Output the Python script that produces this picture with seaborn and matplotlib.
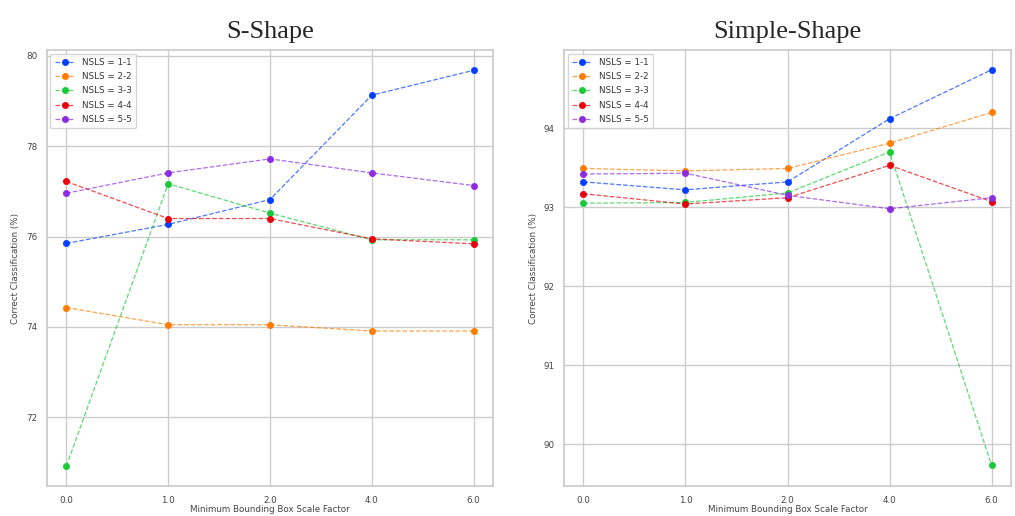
import matplotlib
matplotlib.use("Agg")
import matplotlib.pyplot as plt
import seaborn as sns
import pandas as pd

scale_factors = ["0.0", "1.0", "2.0", "4.0", "6.0"]
series_labels = ["NSLS = 1-1", "NSLS = 2-2", "NSLS = 3-3", "NSLS = 4-4", "NSLS = 5-5"]

s_shape_11 = [75.85, 76.27, 76.82, 79.13, 79.68]
s_shape_22 = [74.43, 74.05, 74.05, 73.91, 73.91]
s_shape_33 = [70.92, 77.17, 76.52, 75.93, 75.93]
s_shape_44 = [77.22, 76.40, 76.40, 75.95, 75.84]
s_shape_55 = [76.96, 77.41, 77.72, 77.41, 77.13]

simple_11 = [93.32, 93.22, 93.32, 94.12, 94.74]
simple_22 = [93.49, 93.46, 93.49, 93.81, 94.20]
simple_33 = [93.05, 93.06, 93.18, 93.70, 89.73]
simple_44 = [93.17, 93.04, 93.12, 93.53, 93.07]
simple_55 = [93.42, 93.43, 93.15, 92.98, 93.12]

s_yticks = [72, 74, 76, 78, 80]
simple_yticks = [90, 91, 92, 93, 94]

sns.set_theme(style="whitegrid")
palette = sns.color_palette("bright", 5)

fig = plt.figure(figsize=(10.15, 5.16), dpi=100)
ax1 = fig.add_axes([0.0463, 0.0581, 0.4394, 0.8450])
ax2 = fig.add_axes([0.5557, 0.0581, 0.4404, 0.8450])

panels = [
    (ax1, "S-Shape", [s_shape_11, s_shape_22, s_shape_33, s_shape_44, s_shape_55], s_yticks, (70.48, 80.13)),
    (ax2, "Simple-Shape", [simple_11, simple_22, simple_33, simple_44, simple_55], simple_yticks, (89.47, 94.99)),
]

for ax, title, data, yticks, ylim in panels:
    for label, vals, c in zip(series_labels, data, palette):
        df = pd.DataFrame({"x": scale_factors, "y": vals})
        sns.lineplot(data=df, x="x", y="y", ax=ax, label=label,
                     color=(*c, 0.7), linestyle="--", linewidth=0.9,
                     marker="o", markersize=4.5, markerfacecolor=c,
                     markeredgecolor=c, markeredgewidth=0.5)
    ax.set_xlim(-0.19, 4.19)
    ax.set_ylim(*ylim)
    ax.set_yticks(yticks)
    ax.tick_params(axis="both", labelsize=6.3, colors="#444444", pad=1)
    ax.set_xlabel("Minimum Bounding Box Scale Factor", fontsize=6.3, color="#444444", labelpad=0.5)
    ax.set_ylabel("Correct Classification (%)", fontsize=6.3, color="#444444", labelpad=4)
    ax.set_title(title, fontsize=19, family=["Liberation Serif", "DejaVu Serif"], pad=9)
    leg = ax.legend(loc="upper left", fontsize=6.3, frameon=True, borderpad=0.5,
                    handlelength=2.3, labelspacing=0.6, handletextpad=0.8,
                    borderaxespad=0.4)
    for t in leg.get_texts():
        t.set_color("#333333")

fig.savefig("out.png", dpi=100)
